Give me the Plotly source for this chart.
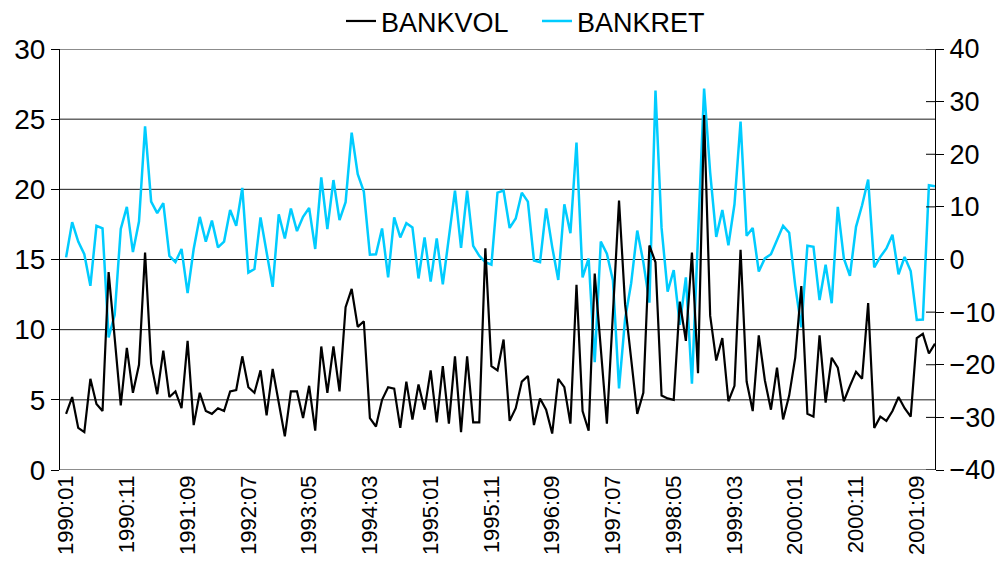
import plotly.graph_objects as go

# ---- data (monthly, 1990:01 .. 2001:12) ----
bankvol = [4.0, 5.2, 3.0, 2.7, 6.5, 4.7, 4.2, 14.1, 9.4, 4.6,
           8.7, 5.5, 7.5, 15.5, 7.6, 5.4, 8.5, 5.2, 5.6, 4.4,
           9.2, 3.2, 5.5, 4.2, 4.0, 4.4, 4.2, 5.6, 5.7, 8.1,
           5.9, 5.5, 7.1, 3.9, 7.2, 4.9, 2.4, 5.6, 5.6, 3.7,
           6.0, 2.8, 8.8, 5.5, 8.8, 5.6, 11.6, 12.9, 10.2, 10.6,
           3.7, 3.1, 5.0, 5.9, 5.8, 3.0, 6.3, 3.6, 6.1, 4.3,
           7.1, 3.4, 7.4, 3.3, 8.1, 2.7, 8.1, 3.4, 3.4, 15.8,
           7.4, 7.1, 9.3, 3.5, 4.4, 6.3, 6.7, 3.2, 5.1, 4.3,
           2.6, 6.5, 5.9, 3.3, 13.2, 4.2, 2.8, 14.0, 8.6, 3.3,
           11.2, 19.2, 11.8, 8.1, 4.0, 5.5, 16.0, 14.8, 5.3, 5.1,
           5.0, 12.0, 9.2, 15.5, 6.9, 25.3, 11.0, 7.8, 9.4, 4.9,
           6.0, 15.7, 6.3, 4.2, 9.6, 6.4, 4.3, 7.3, 3.6, 5.3,
           8.0, 13.1, 4.0, 3.8, 9.6, 4.8, 8.0, 7.3, 4.9, 6.0,
           7.0, 6.5, 11.9, 3.0, 3.8, 3.5, 4.2, 5.2, 4.4, 3.8,
           9.4, 9.7, 8.3, 9.0]

bankret = [0.4, 7.1, 3.4, 1.0, -5.0, 6.4, 5.9, -14.8, -10.5, 5.8,
           10.0, 1.4, 7.2, 25.3, 11.0, 8.8, 10.7, 0.7, -0.5, 2.0,
           -6.4, 2.0, 8.1, 3.4, 7.4, 2.3, 3.4, 9.4, 6.4, 13.6,
           -2.5, -1.8, 8.0, 1.5, -5.2, 8.6, 4.0, 9.7, 5.4, 8.1,
           9.8, 2.0, 15.6, 5.8, 15.1, 7.5, 10.9, 24.1, 16.2, 12.9,
           0.9, 1.0, 5.9, -3.4, 8.0, 4.2, 6.9, 6.1, -3.6, 4.2,
           -4.2, 4.0, -4.7, 4.2, 13.1, 2.2, 13.1, 2.6, 0.7, -0.5,
           -1.0, 12.7, 13.1, 6.0, 7.8, 12.7, 11.0, -0.2, -0.5, 9.7,
           2.4, -3.9, 10.5, 5.0, 22.2, -3.4, 0.2, -19.5, 3.4, 1.1,
           -4.0, -24.5, -11.3, -4.5, 5.5, -0.5, -8.2, 32.1, 6.0, -6.1,
           -2.0, -12.4, -3.4, -23.6, 4.5, 32.5, 16.5, 4.3, 9.4, 2.7,
           10.5, 26.2, 4.5, 6.0, -2.3, 0.2, 1.0, 3.7, 6.4, 5.1,
           -5.0, -12.9, 2.6, 2.4, -7.7, -1.0, -8.3, 10.0, 0.2, -3.1,
           6.2, 10.3, 15.2, -1.5, 0.5, 2.1, 4.7, -2.8, 0.5, -2.2,
           -11.5, -11.4, 14.1, 13.9]

months = [f"{1990 + i // 12}:{i % 12 + 1:02d}" for i in range(len(bankvol))]
tick_labels = ["1990:01", "1990:11", "1991:09", "1992:07", "1993:05",
               "1994:03", "1995:01", "1995:11", "1996:09", "1997:07",
               "1998:05", "1999:03", "2000:01", "2000:11", "2001:09"]
tick_positions = [months.index(t) for t in tick_labels]
x_idx = list(range(len(months)))

left_ticks = [0, 5, 10, 15, 20, 25, 30]
right_ticks = [-40, -30, -20, -10, 0, 10, 20, 30, 40]

FONT = "Liberation Sans, Arial, sans-serif"

fig = go.Figure()
# BANKRET on the main axis (right side), BANKVOL on the overlay (left side) so it is drawn on top
fig.add_trace(go.Scatter(x=x_idx, y=bankret, name="BANKRET", mode="lines",
                         line=dict(color="#00CCFF", width=2.5), yaxis="y", legend="legend2",
                         customdata=months, hovertemplate="%{customdata}: %{y}<extra>BANKRET</extra>"))
fig.add_trace(go.Scatter(x=x_idx, y=bankvol, name="BANKVOL", mode="lines",
                         line=dict(color="#000000", width=2.2), yaxis="y2", legend="legend",
                         customdata=months, hovertemplate="%{customdata}: %{y}<extra>BANKVOL</extra>"))

# horizontal gridlines (behind the lines) at the left-axis ticks
shapes = [dict(type="line", xref="paper", x0=0, x1=1, yref="y2", y0=v, y1=v,
               layer="below", line=dict(color="#1a1a1a", width=1)) for v in left_ticks]
# inner half of the crossing ticks on the right axis
shapes += [dict(type="line", xref="paper", xsizemode="pixel", xanchor=1, x0=-9, x1=0,
                yref="y", y0=v, y1=v, line=dict(color="black", width=1)) for v in right_ticks]

legend_common = dict(orientation="h", xref="container", yref="container",
                     xanchor="left", yanchor="middle", y=0.962,
                     font=dict(size=27, family=FONT), bgcolor="rgba(0,0,0,0)",
                     borderwidth=0)

fig.update_layout(
    width=996, height=564,
    margin=dict(l=60, r=61, t=49, b=94, autoexpand=False),
    paper_bgcolor="white", plot_bgcolor="white",
    font=dict(family=FONT, color="black", size=27),
    showlegend=True,
    legend=dict(x=341 / 996, **legend_common),
    legend2=dict(x=537 / 996, **legend_common),
    shapes=shapes,
    xaxis=dict(range=[-1, len(months) - 1], tickmode="array",
               tickvals=tick_positions, ticktext=tick_labels, tickangle=-90,
               tickfont=dict(size=22, family=FONT), showgrid=False, zeroline=False,
               showline=False, ticks="", automargin=False),
    yaxis=dict(range=[-40, 40], tickvals=right_ticks, side="right",
               showgrid=False, zeroline=False, showline=True, linecolor="black",
               linewidth=1, ticks="outside", ticklen=8, tickcolor="black",
               automargin=False, tickfont=dict(size=27, family=FONT)),
    yaxis2=dict(range=[0, 30], tickvals=left_ticks, side="left", overlaying="y",
                showgrid=False, zeroline=False, showline=True, linecolor="black", linewidth=1,
                ticks="outside", ticklen=8, tickcolor="black", automargin=False,
                tickfont=dict(size=28, family=FONT)),
)

fig.write_html("out.html", config={"displayModeBar": False},
               post_script="document.body.style.margin='0';document.body.style.overflow='hidden';")
